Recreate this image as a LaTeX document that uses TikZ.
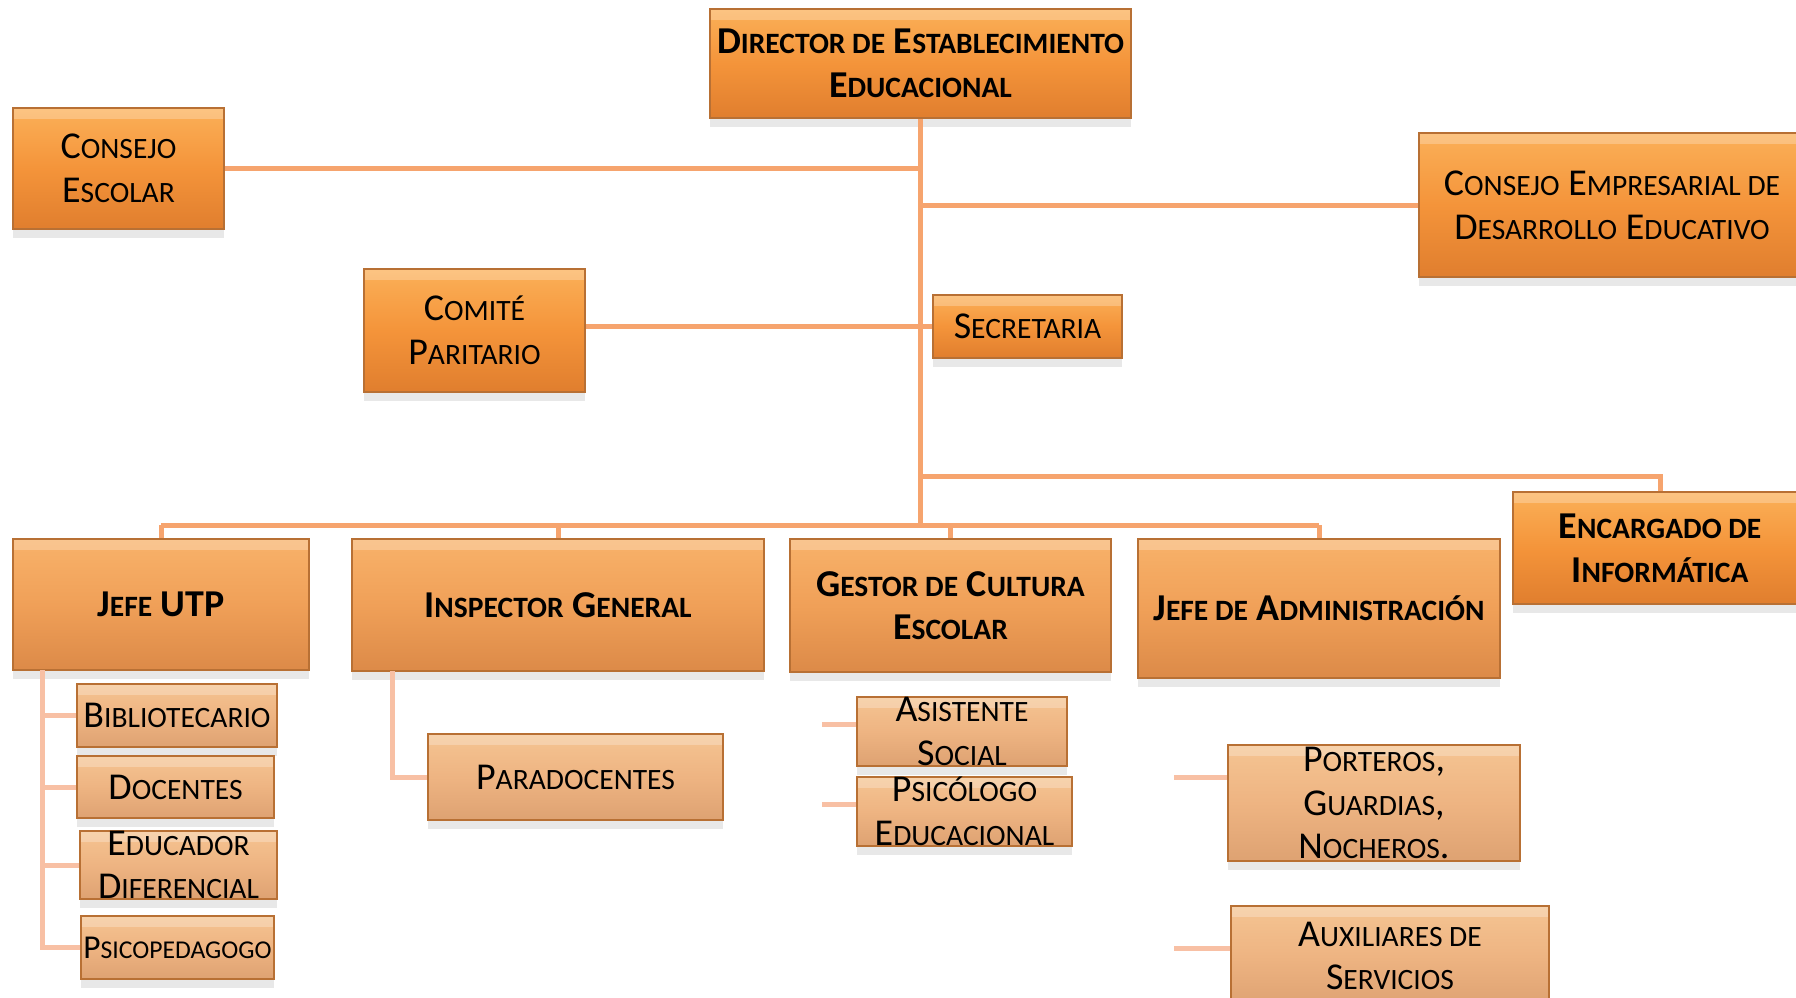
\documentclass[tikz,border=0pt]{standalone}
\usepackage{fontspec}
\setmainfont{Carlito}
\usetikzlibrary{shadows}

\definecolor{bossTop}{RGB}{251,176,88}
\definecolor{bossMid}{RGB}{244,148,58}
\definecolor{bossBot}{RGB}{224,126,46}
\definecolor{headTop}{RGB}{248,178,106}
\definecolor{headMid}{RGB}{240,160,88}
\definecolor{headBot}{RGB}{220,138,72}
\definecolor{staffTop}{RGB}{245,196,146}
\definecolor{staffMid}{RGB}{238,180,130}
\definecolor{staffBot}{RGB}{222,162,114}
\definecolor{boxedge}{RGB}{184,112,52}
\definecolor{linkor}{RGB}{246,164,110}
\definecolor{linkpale}{RGB}{248,192,164}

\newcommand{\sm}[2][8.4pt]{{\fontsize{#1}{12.4pt}\selectfont #2}}

\begin{document}
\begin{tikzpicture}[x=0.1mm,y=-0.1mm,
  box/.style={draw=boxedge, line width=0.2mm, align=center, inner sep=0pt,
    font=\fontsize{10.8pt}{12.4pt}\selectfont,
    drop shadow={shadow xshift=0mm, shadow yshift=-0.9mm, opacity=0.18},
    path picture={\fill[white, opacity=0.25] (path picture bounding box.north west)
      rectangle ([yshift=-1.1mm]path picture bounding box.north east);}},
  boss/.style={box, top color=bossTop, bottom color=bossBot, middle color=bossMid},
  head/.style={box, top color=headTop, bottom color=headBot, middle color=headMid},
  staff/.style={box, top color=staffTop, bottom color=staffBot, middle color=staffMid},
  bold/.style={font=\fontsize{10.8pt}{12.4pt}\selectfont\bfseries},
  link/.style={draw=linkor, line width=0.5mm},
  sublink/.style={draw=linkpale, line width=0.5mm}]
\useasboundingbox (0,0) rectangle (1796,997);

\node[boss, bold, minimum width=42.1mm, minimum height=10.9mm] (dir) at (920.5,63.5)
  {D\sm{IRECTOR DE} E\sm{STABLECIMIENTO}\\E\sm{DUCACIONAL}};
\node[boss, minimum width=21.1mm, minimum height=12.1mm] (consejo) at (118.5,168.5) {C\sm{ONSEJO}\\E\sm{SCOLAR}};
\node[boss, minimum width=38.6mm, minimum height=14.4mm] (cedu) at (1612,205)
  {C\sm{ONSEJO} E\sm{MPRESARIAL DE}\\D\sm{ESARROLLO} E\sm{DUCATIVO}};
\node[boss, minimum width=22.1mm, minimum height=12.3mm] (comite) at (474.5,330.5) {C\sm{OMITÉ}\\P\sm{ARITARIO}};
\node[boss, minimum width=18.9mm, minimum height=6.3mm] (secre) at (1027.5,326.5) {S\sm{ECRETARIA}};
\node[boss, bold, minimum width=29.4mm, minimum height=11.2mm] (enc) at (1660,548)
  {E\sm{NCARGADO DE}\\I\sm{NFORMÁTICA}};

\node[head, bold, minimum width=29.6mm, minimum height=13.1mm] (utp) at (161,604.5) {J\sm{EFE} UTP};
\node[head, bold, minimum width=41.2mm, minimum height=13.2mm] (insp) at (558,605) {I\sm{NSPECTOR} G\sm{ENERAL}};
\node[head, bold, minimum width=32.1mm, minimum height=13.3mm] (gestor) at (950.5,605.5)
  {G\sm{ESTOR DE} C\sm{ULTURA}\\E\sm{SCOLAR}};
\node[head, bold, minimum width=36.2mm, minimum height=13.9mm] (admin) at (1319,608.5)
  {J\sm{EFE DE} A\sm{DMINISTRACIÓN}};

\node[staff, minimum width=20mm, minimum height=6.3mm] (biblio) at (177,715.5) {B\sm{IBLIOTECARIO}};
\node[staff, minimum width=19.7mm, minimum height=6.2mm] (docentes) at (175.5,787) {D\sm{OCENTES}};
\node[staff, minimum width=19.7mm, minimum height=6.4mm] (educador) at (178.5,865) {E\sm{DUCADOR}\\D\sm{IFERENCIAL}};
\node[staff, font=\fontsize{9.5pt}{12.4pt}\selectfont, minimum width=19.3mm, minimum height=6.3mm] (psicoped) at (177.5,947.5)
  {P\sm[7.3pt]{SICOPEDAGOGO}};
\node[staff, minimum width=29.5mm, minimum height=8.6mm] (parado) at (575.5,777) {P\sm{ARADOCENTES}};
\node[staff, minimum width=21mm, minimum height=6.3mm] (asist) at (962,731.5) {A\sm{SISTENTE}\\S\sm{OCIAL}};
\node[staff, minimum width=21.5mm, minimum height=6.3mm] (psico) at (964.5,811.5) {P\sm{SICÓLOGO}\\E\sm{DUCACIONAL}};
\node[staff, minimum width=29.2mm, minimum height=11.6mm] (porteros) at (1374,803) {P\sm{ORTEROS},\\G\sm{UARDIAS},\\N\sm{OCHEROS}.};
\node[staff, minimum width=31.8mm, minimum height=10mm] (auxil) at (1390,956) {A\sm{UXILIARES DE}\\S\sm{ERVICIOS}};

\coordinate (hub) at (920.5,525);
\coordinate (tap) at (920.5,476);
\coordinate (spine) at (42,670);
\coordinate (ispine) at (392,671);
\coordinate (gstub) at (822,0);
\coordinate (astub) at (1174,0);

\draw[link] (dir) -- (hub);
\draw[link] (consejo) -- (consejo -| hub);
\draw[link] (cedu) -- (cedu -| hub);
\draw[link] (comite.east |- secre.west) -- (secre.west);
\draw[link] (tap) -| (enc);
\draw[link] (utp.north |- hub) -- (admin.north |- hub);
\foreach \n in {utp,insp,gestor,admin}
  \draw[link] (\n.north) -- (\n.north |- hub);

\draw[sublink] (spine) |- (psicoped.west);
\foreach \n in {biblio,docentes,educador}
  \draw[sublink] (\n.west) -- (\n.west -| spine);
\draw[sublink] (ispine) |- (parado.west);
\draw[sublink] ([yshift=0.7mm]asist.west) -- ([yshift=0.7mm]asist.west -| gstub);
\draw[sublink] ([yshift=0.7mm]psico.west) -- ([yshift=0.7mm]psico.west -| gstub);
\draw[sublink] ([yshift=2.6mm]porteros.west) -- ([yshift=2.6mm]porteros.west -| astub);
\draw[sublink] ([yshift=0.8mm]auxil.west) -- ([yshift=0.8mm]auxil.west -| astub);
\end{tikzpicture}
\end{document}
